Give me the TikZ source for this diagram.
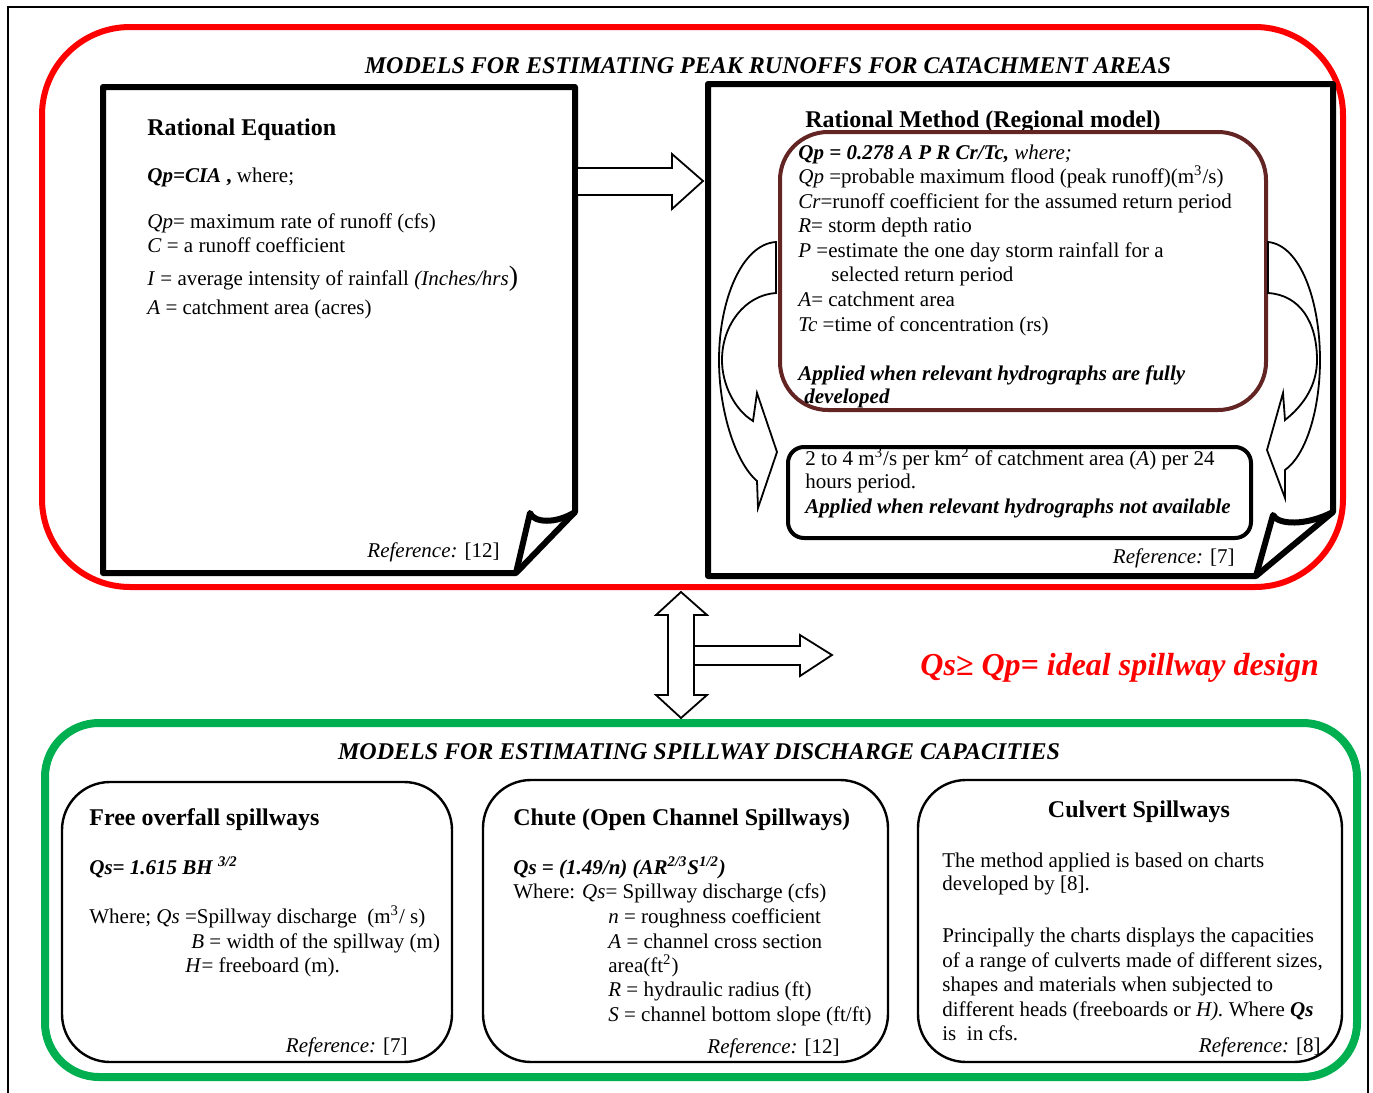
\documentclass[tikz,border=0pt]{standalone}
\usepackage{fontspec}
\setmainfont{Liberation Serif}
\definecolor{framered}{RGB}{255,0,0}
\definecolor{framegreen}{RGB}{0,176,80}
\definecolor{boxbrown}{RGB}{99,37,35}
\tikzset{
    linetext/.style={anchor=base west, inner sep=0pt, font=\fontsize{10.5}{12}\selectfont},
    reftext/.style={anchor=base east, inner sep=0pt, font=\fontsize{10.5}{12}\selectfont},
    boxtitle/.style={anchor=base west, inner sep=0pt, font=\fontsize{12}{14}\selectfont\bfseries},
    grouptitle/.style={anchor=base, inner sep=0pt, font=\fontsize{12}{14}\selectfont\bfseries\itshape},
    pageborder/.style={line width=3pt, line join=round},
    blockarrow/.style={draw, fill=white, line width=0.9pt},
    spillbox/.style={line width=1.2pt, rounded corners=24pt}
}

\begin{document}
\begin{tikzpicture}[x=0.5pt, y=-0.5pt]
    \useasboundingbox (0,0) rectangle (1373,1093);
    \draw[line width=1.2pt] (8,1093) -- (8,7) -- (1368,7) -- (1368,1093);
    \draw[framered, line width=3pt, rounded corners=44pt] (42,27) rectangle (1343,587);
    \draw[framegreen, line width=4pt, rounded corners=27pt] (45,723) rectangle (1357,1077);

    \draw (768,73) node[grouptitle] (peaktitle) {MODELS FOR ESTIMATING PEAK RUNOFFS FOR CATACHMENT AREAS};

    \draw[pageborder] (516,573) -- (103,573) -- (103,87) -- (575,87) -- (575,512) -- cycle;
    \draw[pageborder] (516,573) -- (530,513) .. controls (534,523) and (556,524) .. (575,512);
    \draw (147,135) node[boxtitle] (rattitle) {Rational Equation};
    \draw (147,182) node[linetext] (ratform) {{\bfseries\itshape Qp=CIA} {\bfseries ,} where;};
    \draw (147,228) node[linetext] (ratqp) {\textit{Qp}= maximum rate of runoff (cfs)};
    \draw (147,252) node[linetext] (ratc) {\textit{C} = a runoff coefficient};
    \draw (147,285) node[linetext] (rati) {\textit{I} = average intensity of rainfall \textit{(Inches/hrs}{\fontsize{14}{14}\selectfont )}};
    \draw (147,314) node[linetext] (rata) {\textit{A} = catchment area (acres)};
    \draw (500,557) node[reftext] (ratref) {\textit{Reference:} [12]};

    \draw[blockarrow] (577,168) -- (672,168) -- (672,154) -- (703,181) -- (672,209) -- (672,195) -- (577,195) -- cycle;

    \draw[pageborder] (1256,576) -- (708,576) -- (708,84) -- (1333,84) -- (1333,512) -- cycle;
    \draw[pageborder] (1256,576) -- (1273,515) .. controls (1278,525) and (1306,526) .. (1333,512);
    \draw (805,127) node[boxtitle] (regtitle) {Rational Method (Regional model)};
    \draw[boxbrown, line width=2pt, rounded corners=24pt] (780,132) rectangle (1266,410);
    \draw (798,159) node[linetext] (regform) {{\bfseries\itshape Qp = 0.278 A P R Cr/Tc,} \textit{where;}};
    \draw (798,183) node[linetext] (regqp) {\textit{Qp} =probable maximum flood (peak runoff)(m\textsuperscript{3}/s)};
    \draw (798,208) node[linetext] (regcr) {\textit{Cr}=runoff coefficient for the assumed return period};
    \draw (798,232) node[linetext] (regr) {\textit{R}= storm depth ratio};
    \draw (798,257) node[linetext] (regp) {\textit{P} =estimate the one day storm rainfall for a};
    \draw (831,281) node[linetext] (regpb) {selected return period};
    \draw (798,306) node[linetext] (rega) {\textit{A}= catchment area};
    \draw (798,331) node[linetext] (regtc) {\textit{Tc} =time of concentration (rs)};
    \draw (798,380) node[linetext] (regfull) {\bfseries\itshape Applied when relevant hydrographs are fully};
    \draw (804,403) node[linetext] (regfullb) {\bfseries\itshape developed};
    \draw[line width=2pt, rounded corners=8pt] (788,447) rectangle (1251,538);
    \draw (805,465) node[linetext] (rough) {2 to 4 m\textsuperscript{3}/s per km\textsuperscript{2} of catchment area (\textit{A}) per 24};
    \draw (805,488) node[linetext] (roughb) {hours period.};
    \draw (805,513) node[linetext] (roughnote) {\bfseries\itshape Applied when relevant hydrographs not available};
    \draw (1235,563) node[reftext] (regref) {\textit{Reference:} [7]};

    \draw[blockarrow] (776,242) .. controls (742,244) and (719,300) .. (719,360) .. controls (719,410) and (735,462) .. (757,481)
        -- (758,508) -- (777,452) -- (757,393) -- (753,421)
        .. controls (735,410) and (722,385) .. (722,360) .. controls (722,325) and (745,295) .. (776,293) -- cycle;
    \draw[blockarrow] (1268,242) .. controls (1300,245) and (1320,300) .. (1320,360) .. controls (1320,410) and (1306,455) .. (1285,470)
        -- (1285,498) -- (1267,450) -- (1283,393) -- (1285,420)
        .. controls (1304,405) and (1317,385) .. (1317,360) .. controls (1317,322) and (1300,295) .. (1268,293) -- cycle;

    \draw[blockarrow] (681,592) -- (707,615) -- (694,615) -- (694,695) -- (707,695) -- (681,718) -- (656,695) -- (668,695) -- (668,615) -- (656,615) -- cycle;
    \draw[blockarrow] (694,646) -- (800,646) -- (800,635) -- (832,655) -- (800,676) -- (800,665) -- (694,665) -- cycle;
    \draw (920,675) node[anchor=base west, inner sep=0pt, text=framered, font=\fontsize{16}{18}\selectfont\bfseries\itshape] (ideal) {Qs≥ Qp= ideal spillway design};

    \draw (699,759) node[grouptitle] (spilltitle) {MODELS FOR ESTIMATING SPILLWAY DISCHARGE CAPACITIES};

    \draw[spillbox] (62,782) rectangle (452,1062);
    \draw (89,825) node[boxtitle] (freetitle) {Free overfall spillways};
    \draw (89,874) node[linetext] (freeform) {\bfseries\itshape Qs= 1.615 BH \textsuperscript{3/2}};
    \draw (89,923) node[linetext] (freeqs) {Where; \textit{Qs} =Spillway discharge\ \ (m\textsuperscript{3}/ s)};
    \draw (191,948) node[linetext] (freeb) {\textit{B} = width of the spillway (m)};
    \draw (185,972) node[linetext] (freeh) {\textit{H}= freeboard (m).};
    \draw (408,1052) node[reftext] (freeref) {\textit{Reference:} [7]};

    \draw[spillbox] (483,780) rectangle (888,1062);
    \draw (513,825) node[boxtitle] (chutetitle) {Chute (Open Channel Spillways)};
    \draw (513,874) node[linetext] (chuteform) {\bfseries\itshape Qs = (1.49/n) (AR\textsuperscript{2/3}S\textsuperscript{1/2})};
    \draw (513,898) node[linetext] (chuteqs) {Where: \textit{Qs}= Spillway discharge (cfs)};
    \draw (608,923) node[linetext] (chuten) {\textit{n} = roughness coefficient};
    \draw (608,948) node[linetext] (chutea) {\textit{A} = channel cross section};
    \draw (608,972) node[linetext] (chuteab) {area(ft\textsuperscript{2})};
    \draw (608,996) node[linetext] (chuter) {\textit{R} = hydraulic radius (ft)};
    \draw (608,1021) node[linetext] (chutes) {\textit{S} = channel bottom slope (ft/ft)};
    \draw (840,1053) node[reftext] (chuteref) {\textit{Reference:} [12]};

    \draw[spillbox] (918,780) rectangle (1342,1062);
    \draw (1139,817) node[boxtitle, anchor=base] (culvtitle) {Culvert Spillways};
    \draw (942,867) node[linetext] (culva) {The method applied is based on charts};
    \draw (942,890) node[linetext] (culvb) {developed by [8].};
    \draw (942,942) node[linetext] (culvc) {Principally the charts displays the capacities};
    \draw (942,967) node[linetext] (culvd) {of a range of culverts made of different sizes,};
    \draw (942,991) node[linetext] (culve) {shapes and materials when subjected to};
    \draw (942,1016) node[linetext] (culvf) {different heads (freeboards or \textit{H).} Where {\bfseries\itshape Qs}};
    \draw (942,1040) node[linetext] (culvg) {is\ \ in cfs.};
    \draw (1321,1052) node[reftext] (culvref) {\textit{Reference:} [8]};
\end{tikzpicture}
\end{document}
